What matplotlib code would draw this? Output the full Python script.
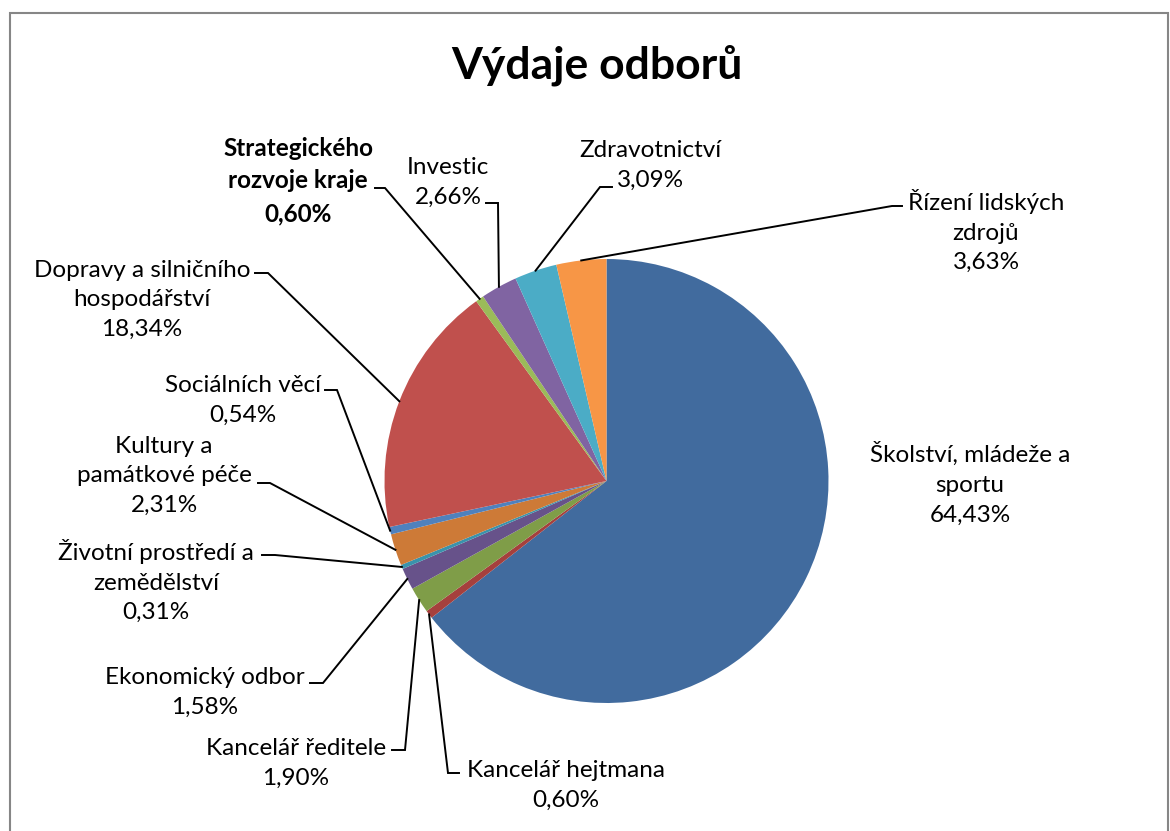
import matplotlib
matplotlib.use("Agg")
import matplotlib.pyplot as plt
import numpy as np
from matplotlib.patches import Rectangle

# ---- data ----
categories = [
    "Školství, mládeže a\nsportu",
    "Kancelář hejtmana",
    "Kancelář ředitele",
    "Ekonomický odbor",
    "Životní prostředí a\nzemědělství",
    "Kultury a\npamátkové péče",
    "Sociálních věcí",
    "Dopravy a silničního\nhospodářství",
    "Strategického\nrozvoje kraje",
    "Investic",
    "Zdravotnictví",
    "Řízení lidských\nzdrojů",
]
values = [64.43, 0.60, 1.90, 1.58, 0.31, 2.31, 0.54, 18.34, 0.60, 2.66, 3.09, 3.63]
pct_labels = ["64,43%", "0,60%", "1,90%", "1,58%", "0,31%", "2,31%",
              "0,54%", "18,34%", "0,60%", "2,66%", "3,09%", "3,63%"]
title = "Výdaje odborů"

# ---- style ----
colors = ["#416B9E", "#A5403D", "#7F9D48", "#67528A", "#3A93AC", "#CD7A37",
          "#4F81BD", "#C0504D", "#9BBB59", "#8064A2", "#4BACC6", "#F79646"]
bold_label = [False] * 8 + [True] + [False] * 3

W, H = 1170, 831
# layout in pixel coordinates (y from top)
pie_center = (606.5, 481.0)
pie_radius = 222.0
# label block centers
label_pos = [(970, 484), (566, 785), (296, 763), (205, 692), (156, 581),
             (164, 476), (243, 400), (142, 300), (298, 181), (448, 182),
             (650, 165), (986, 231)]
# leader elbow (x, y) and horizontal end x; None = no leader
leader = [None, (448, 773, 459), (405, 750, 392), (323, 683, 310),
          (275, 555, 262), (270, 483, 258), (337, 390, 325), (268, 273, 255),
          (385, 188, 375), (498, 203, 486), (600, 187, 612), (892, 206, 902)]

FONT = ["Lato", "DejaVu Sans"]
plt.rcParams["font.family"] = FONT

fig = plt.figure(figsize=(W / 100, H / 100), dpi=100)
ax = fig.add_axes([0, 0, 1, 1])

def Y(y):
    return H - y

wedges, _ = ax.pie(values, colors=colors, startangle=90, counterclock=False,
                   radius=pie_radius, center=(pie_center[0], Y(pie_center[1])),
                   wedgeprops=dict(linewidth=0, edgecolor="none"),
                   frame=True)
ax.set_xlim(0, W)
ax.set_ylim(0, H)
ax.set_aspect("auto")
ax.axis("off")

# labels and leaders
for i, w in enumerate(wedges):
    mid = np.deg2rad((w.theta1 + w.theta2) / 2)
    ex = w.center[0] + w.r * np.cos(mid)
    ey = w.center[1] + w.r * np.sin(mid)
    cx, cy = label_pos[i]
    ax.text(cx, Y(cy), categories[i] + "\n" + pct_labels[i], ha="center",
            va="center", fontsize=17.5, linespacing=1.52,
            fontweight="bold" if bold_label[i] else "normal", color="black")
    if leader[i] is not None:
        lx, ly, hx = leader[i]
        ax.plot([ex, lx, hx], [ey, Y(ly), Y(ly)], color="black", lw=1.4,
                solid_joinstyle="miter")

ax.text(597, Y(65), title, ha="center", va="center", fontsize=32,
        fontweight="bold", color="black")

fig.patches.append(Rectangle((9.5 / W, -0.01), (1167.5 - 9.5) / W,
                             (H - 12.5) / H + 0.01, transform=fig.transFigure,
                             fill=False, edgecolor="#868686", lw=1.5))

fig.savefig("out.png", dpi=100, facecolor="white")
